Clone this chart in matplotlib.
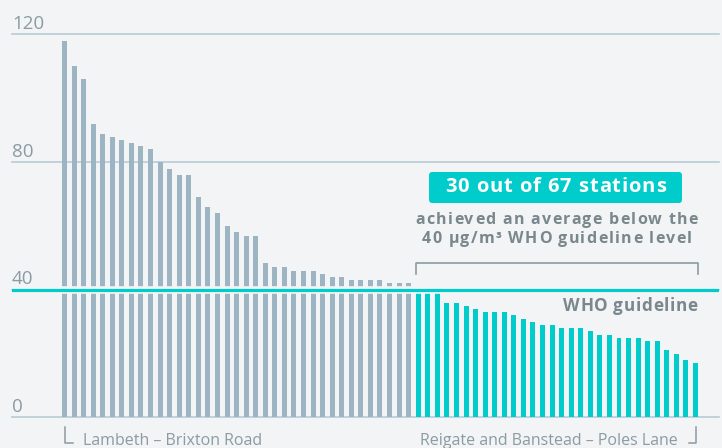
import matplotlib
matplotlib.use("Agg")
import matplotlib.pyplot as plt
from matplotlib.patches import FancyBboxPatch
from matplotlib.font_manager import FontProperties
from matplotlib.transforms import offset_copy

plt.rcParams['font.family'] = ['Open Sans', 'DejaVu Sans']

# NO2 annual mean per monitoring station, sorted high to low
above = [118, 110, 106, 92, 88.8, 87.8, 86.9, 86, 85, 84.1, 80, 77.8, 75.9, 75.9,
         69, 65.9, 64, 59.9, 58, 56.8, 56.8, 48.2, 47.1, 47.1, 45.8, 45.8, 45.8,
         44.9, 43.9, 43.9, 43, 43, 43, 43, 42, 42, 42]
below = [39, 39, 39, 35.8, 35.8, 34.8, 33.9, 32.9, 32.9, 32.9, 32, 30.7, 29.8,
         28.9, 28.9, 27.9, 27.9, 27.9, 27, 25.7, 25.7, 24.8, 24.8, 24.8, 23.8,
         23.8, 21, 19.8, 17.9, 16.9]
yticks = [0, 40, 80, 120]
guideline = 40
first_name = "Lambeth \u2013 Brixton Road"
last_name = "Reigate and Banstead \u2013 Poles Lane"

bg = '#f2f4f6'
grey = '#9db4c2'
teal = '#00cccc'
grid = '#b9cbd5'
txt = '#8c9ba3'
dark = '#7a878d'

values = above + below
n = len(values)
colors = [grey] * len(above) + [teal] * len(below)

fig = plt.figure(figsize=(7.22, 4.48), dpi=100, facecolor=bg)
ax = fig.add_axes([12 / 722, 31 / 448, 707 / 722, 382.5 / 448])
ax.set_facecolor(bg)
ax.set_xlim(-5.49, 68.46)
ax.set_ylim(0, 120)
ax.axis('off')
renderer = fig.canvas.get_renderer()


def spaced_text(x, y, s, size, spacing, color, ha='center', **kw):
    # text with extra letter spacing (in pixels)
    prop = FontProperties(family=['Open Sans', 'DejaVu Sans'], size=size,
                          weight='bold')

    def width(t):
        return renderer.get_text_width_height_descent(t, prop, ismath=False)[0]

    lefts = [width(s[:i + 1]) - width(s[i]) + i * spacing for i in range(len(s))]
    total = width(s) + (len(s) - 1) * spacing
    start = {'left': 0, 'center': -total / 2, 'right': -total}[ha]
    for ch, lx in zip(s, lefts):
        if ch == ' ':
            continue
        tr = offset_copy(ax.transData, fig, x=start + lx, y=0, units='dots')
        ax.text(x, y, ch, fontproperties=prop, color=color, ha='left',
                va='center', transform=tr, **kw)


for t in yticks:
    ax.axhline(t, color=grid, lw=1.2, zorder=0, clip_on=False)
    ax.text(-5.49, t + 1.6, str(t), color=txt, fontsize=13.5, ha='left',
            va='baseline', clip_on=False)

ax.bar(range(n), values, width=0.52, color=colors, zorder=2)

# guideline with a gap around it
ax.axhline(guideline, color=bg, lw=5.5, zorder=3)
ax.axhline(guideline, color=teal, lw=2.3, zorder=4)
spaced_text(66.2, 34.8, "WHO guideline", 12.3, 0.6, dark, ha='right', zorder=5)

# bracket over stations below the guideline
x0 = len(above) - 0.26
x1 = n - 1 + 0.26
ax.plot([x0, x0, x1, x1], [44.9, 48.3, 48.3, 44.9], color=txt, lw=1.2,
        zorder=5)
spaced_text((x0 + x1) / 2, 61.8, "achieved an average below the", 11.5, 1.3,
            dark)
spaced_text((x0 + x1) / 2, 55.8, "40 \u00b5g/m\u00b3 WHO guideline level",
            11.5, 1.3, dark)

box = FancyBboxPatch((38.13, 67.14), 26.46, 9.72,
                     boxstyle='round,pad=0,rounding_size=0.35',
                     mutation_aspect=3.0, fc=teal, ec='none', zorder=5)
ax.add_patch(box)
spaced_text(51.36, 72.0, "30 out of 67 stations", 14.5, 0.9, 'white',
            zorder=6)

# first and last station labels
ax.plot([0.05, 0.05, 0.9], [-3.1, -8.2, -8.2], color=txt, lw=1.1,
        clip_on=False)
ax.text(1.95, -8.8, first_name, color=txt, fontsize=11.5, ha='left',
        va='baseline', clip_on=False)
ax.plot([65.3, 66.1, 66.1], [-8.2, -8.2, -3.1], color=txt, lw=1.1,
        clip_on=False)
ax.text(64.1, -8.8, last_name, color=txt, fontsize=11.5, ha='right',
        va='baseline', clip_on=False)

fig.savefig('out.png', dpi=100, facecolor=bg)
